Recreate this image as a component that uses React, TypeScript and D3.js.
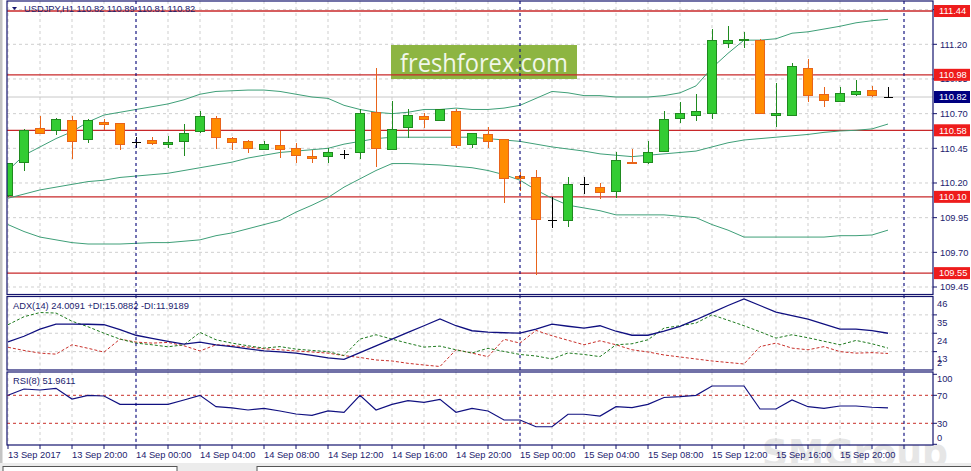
import * as d3 from 'd3';

// hourly candles, 13 Sep 16:00 .. 15 Sep 23:00
const opens = [110.11, 110.35, 110.59, 110.575, 110.65, 110.51, 110.637, 110.63, 110.49, 110.503, 110.479, 110.50, 110.57, 110.666, 110.524, 110.50, 110.443, 110.472, 110.45, 110.394, 110.39, 110.407, 110.421, 110.71, 110.443, 110.601, 110.683, 110.649, 110.719, 110.479, 110.551, 110.51, 110.25, 110.241, 109.933, 109.926, 110.19, 110.169, 110.137, 110.35, 110.35, 110.425, 110.666, 110.685, 110.702, 111.207, 111.226, 111.231, 110.685, 110.688, 111.027, 110.839, 110.789, 110.836, 110.87, 110.82];
const highs = [110.345, 110.59, 110.68, 110.666, 110.683, 110.661, 110.661, 110.635, 110.534, 110.534, 110.539, 110.625, 110.719, 110.683, 110.534, 110.51, 110.503, 110.577, 110.49, 110.438, 110.45, 110.438, 110.733, 111.027, 110.791, 110.731, 110.702, 110.735, 110.733, 110.56, 110.606, 110.515, 110.28, 110.294, 110.097, 110.245, 110.245, 110.198, 110.421, 110.445, 110.503, 110.719, 110.786, 110.839, 111.31, 111.334, 111.286, 111.235, 110.923, 111.063, 111.094, 110.89, 110.89, 110.942, 110.899, 110.89];
const lows = [110.10, 110.29, 110.55, 110.546, 110.37, 110.49, 110.582, 110.438, 110.45, 110.474, 110.45, 110.397, 110.558, 110.443, 110.438, 110.418, 110.44, 110.378, 110.346, 110.342, 110.346, 110.37, 110.37, 110.317, 110.44, 110.522, 110.598, 110.645, 110.45, 110.45, 110.454, 110.053, 110.144, 109.54, 109.878, 109.885, 110.118, 110.082, 110.09, 110.338, 110.337, 110.42, 110.635, 110.649, 110.659, 111.175, 111.175, 110.70, 110.601, 110.685, 110.786, 110.75, 110.785, 110.83, 110.82, 110.81];
const closes = [110.34, 110.58, 110.56, 110.66, 110.50, 110.65, 110.62, 110.48, 110.49, 110.488, 110.493, 110.558, 110.683, 110.531, 110.493, 110.45, 110.479, 110.443, 110.40, 110.378, 110.421, 110.407, 110.702, 110.45, 110.587, 110.685, 110.659, 110.733, 110.469, 110.558, 110.50, 110.234, 110.234, 109.938, 109.933, 110.19, 110.19, 110.133, 110.363, 110.34, 110.421, 110.661, 110.702, 110.712, 111.224, 111.224, 111.238, 110.702, 110.702, 111.038, 110.829, 110.796, 110.846, 110.861, 110.829, 110.82];

// Bollinger bands
const bbUpper = [110.29, 110.40, 110.46, 110.52, 110.57, 110.64, 110.69, 110.71, 110.73, 110.75, 110.77, 110.80, 110.84, 110.86, 110.865, 110.87, 110.87, 110.86, 110.84, 110.82, 110.81, 110.76, 110.73, 110.71, 110.70, 110.71, 110.73, 110.73, 110.74, 110.73, 110.73, 110.74, 110.76, 110.81, 110.86, 110.85, 110.83, 110.83, 110.82, 110.82, 110.82, 110.83, 110.85, 110.90, 111.03, 111.135, 111.23, 111.23, 111.24, 111.28, 111.29, 111.31, 111.33, 111.355, 111.37, 111.38];
const bbMiddle = [110.09, 110.12, 110.15, 110.17, 110.19, 110.21, 110.22, 110.24, 110.25, 110.26, 110.27, 110.29, 110.31, 110.33, 110.35, 110.38, 110.40, 110.42, 110.43, 110.44, 110.45, 110.48, 110.50, 110.52, 110.53, 110.53, 110.53, 110.53, 110.53, 110.53, 110.52, 110.51, 110.50, 110.48, 110.46, 110.445, 110.43, 110.41, 110.40, 110.39, 110.40, 110.41, 110.42, 110.43, 110.46, 110.49, 110.51, 110.52, 110.53, 110.54, 110.55, 110.565, 110.575, 110.58, 110.59, 110.625];
const bbLower = [109.90, 109.85, 109.81, 109.79, 109.77, 109.76, 109.76, 109.76, 109.765, 109.77, 109.77, 109.78, 109.79, 109.82, 109.84, 109.87, 109.90, 109.93, 109.99, 110.04, 110.095, 110.17, 110.23, 110.29, 110.34, 110.34, 110.335, 110.33, 110.32, 110.31, 110.29, 110.26, 110.22, 110.15, 110.09, 110.04, 110.02, 110.00, 109.97, 109.97, 109.97, 109.97, 109.96, 109.95, 109.90, 109.86, 109.81, 109.81, 109.81, 109.81, 109.81, 109.81, 109.82, 109.82, 109.825, 109.86];

// ADX(14)
const adx = [18.9, 22.2, 26.5, 29.5, 29.5, 29.4, 29.1, 26.1, 22.8, 20.9, 19.1, 17.5, 18.7, 17.1, 16.0, 14.7, 13.4, 12.8, 12.1, 10.7, 9.2, 8.4, 12.4, 16.5, 20.5, 24.5, 28.5, 32.6, 28.5, 25.5, 24.7, 24.3, 24.1, 26.5, 29.5, 28.2, 27.1, 28.5, 25.2, 22.8, 22.8, 25.2, 28.1, 32.1, 36.4, 40.6, 44.6, 40.6, 36.7, 34.5, 32.4, 29.4, 26.5, 26.5, 25.6, 24.0];
const plusDi = [29.1, 33.9, 36.4, 36.1, 31.2, 27.9, 24.0, 20.5, 18.1, 17.1, 15.9, 17.1, 24.5, 20.1, 18.1, 16.5, 15.1, 16.0, 14.5, 13.7, 13.0, 10.7, 20.5, 23.1, 20.5, 18.0, 15.7, 16.3, 14.1, 12.2, 15.0, 13.1, 11.3, 10.4, 8.6, 12.2, 11.3, 10.0, 17.1, 17.7, 20.1, 27.1, 28.5, 30.1, 35.0, 31.8, 28.5, 24.9, 21.1, 23.1, 21.3, 19.2, 17.1, 19.7, 17.7, 15.1];
const minusDi = [15.6, 13.7, 12.1, 11.5, 17.1, 15.0, 12.7, 20.5, 18.7, 18.1, 18.5, 16.5, 13.4, 17.1, 16.6, 15.7, 14.7, 14.1, 13.4, 12.8, 12.1, 10.6, 9.5, 8.0, 7.4, 6.0, 5.0, 4.1, 14.1, 12.1, 10.0, 20.4, 18.1, 25.7, 22.5, 19.8, 17.1, 19.5, 17.1, 14.1, 12.8, 11.0, 9.8, 8.6, 7.4, 6.5, 5.6, 16.0, 18.1, 15.1, 14.1, 16.0, 13.0, 12.1, 12.4, 11.9];

// RSI(8)
const rsi = [70.0, 79.0, 77.6, 80.0, 64.7, 70.0, 69.0, 57.1, 57.1, 57.1, 57.1, 63.3, 70.0, 53.7, 51.9, 49.0, 51.4, 47.6, 43.3, 41.4, 47.6, 45.7, 70.0, 49.0, 57.1, 62.3, 60.0, 64.3, 45.7, 51.4, 47.6, 34.7, 34.7, 25.1, 25.1, 42.9, 42.9, 40.4, 53.7, 52.3, 57.1, 66.9, 68.0, 70.0, 83.3, 83.3, 83.3, 50.4, 50.4, 63.3, 53.7, 51.4, 54.7, 54.7, 52.9, 51.96];

const timeLabels = ['13 Sep 2017', '13 Sep 20:00', '14 Sep 00:00', '14 Sep 04:00', '14 Sep 08:00', '14 Sep 12:00', '14 Sep 16:00', '14 Sep 20:00', '15 Sep 00:00', '15 Sep 04:00', '15 Sep 08:00', '15 Sep 12:00', '15 Sep 16:00', '15 Sep 20:00'];
const priceTicks = [111.45, 111.20, 110.95, 110.70, 110.45, 110.20, 109.95, 109.70, 109.45];
const levels = [111.44, 110.98, 110.58, 110.10, 109.55];
const bid = 110.82;
const dayStarts = [8, 32, 56];
const adxTicks = [46, 35, 24, 13, 2];
const rsiLevels = [70, 30];
const rsiTicks = [100, 70, 30, 0];

const W = 971, H = 471;
const L = 7, R = 933;
const main = { top: 1, bottom: 294.5 };
const pAdx = { top: 296.5, bottom: 370 };
const pRsi = { top: 372, bottom: 445 };

const NAVY = '#14146e';
const TXT = '#22226e';
const RED = '#c8282a';
const FONT = '"Liberation Sans", Arial, sans-serif';
const FS = 9.3;

export default function App() {
  const n = closes.length;
  const x = d3.scaleLinear().domain([0, 56]).range([8, 904]);
  const y = d3.scaleLinear().domain([109.45, 111.20]).range([287, 44.3]);
  const ya = d3.scaleLinear().domain([2, 46]).range([pAdx.bottom, pAdx.top]);
  const yr = d3.scaleLinear().domain([0, 100]).range([444.3, 374.3]);

  const lineP = d3.line<number>().x((_, i) => x(i)).y(d => y(d));
  const lineA = d3.line<number>().x((_, i) => x(i)).y(d => ya(d));
  const lineR = d3.line<number>().x((_, i) => x(i)).y(d => yr(d));

  const vGrid = d3.range(0, 57, 2).map(i => x(i)).filter(v => v < R);
  const idx = d3.range(n);

  const gridV = (top: number, bottom: number) =>
    vGrid.map((gx, i) => (
      <line key={i} x1={gx} x2={gx} y1={top} y2={bottom} stroke="#cfcfcf" strokeDasharray="3,3" />
    ));

  const lvlFmt = d3.format('.2f');

  return (
    <div style={{ position: 'absolute', left: 0, top: 0, width: W, height: H, background: '#fff' }}>
      <svg width={W} height={H} style={{ display: 'block' }} fontFamily={FONT} fontSize={FS}>
        <defs>
          <clipPath id="cMain"><rect x={L} y={main.top} width={R - L} height={main.bottom - main.top} /></clipPath>
          <clipPath id="cAdx"><rect x={L} y={pAdx.top} width={R - L} height={pAdx.bottom - pAdx.top} /></clipPath>
          <clipPath id="cRsi"><rect x={L} y={pRsi.top} width={R - L} height={pRsi.bottom - pRsi.top} /></clipPath>
        </defs>
        <rect x={0} y={0} width={W} height={H} fill="#fff" />
        <rect x={0} y={0} width={2.5} height={463} fill="#c4c4c4" />

        {/* SMGroup watermark */}
        <text x={762} y={466} fontSize={38} fontWeight="bold" fill="#e6e6e6" textLength={186}
          lengthAdjust="spacingAndGlyphs" fontFamily='"DejaVu Sans", sans-serif'>SMGroup</text>

        {/* main panel */}
        <g clipPath="url(#cMain)">
          {gridV(main.top, main.bottom)}
          {priceTicks.map(p => (
            <line key={p} x1={L} x2={R} y1={y(p)} y2={y(p)} stroke="#cfcfcf" strokeDasharray="3,3" />
          ))}
          <rect x={391} y={45} width={186} height={34} fill="#8db542" />
          <text x={400} y={72} fontSize={25} fill="#f2f7ea" fontFamily='"Open Sans", sans-serif'
            textLength={168} lengthAdjust="spacingAndGlyphs">freshforex.com</text>
          <line x1={L} x2={R} y1={y(bid)} y2={y(bid)} stroke="#c8c8c8" />
          {levels.map(p => (
            <line key={p} x1={L} x2={R} y1={y(p)} y2={y(p)} stroke={RED} strokeWidth={1.3} />
          ))}
          {[bbUpper, bbMiddle, bbLower].map((s, i) => (
            <path key={i} d={lineP(s) ?? ''} fill="none" stroke="#3f9f78" strokeWidth={1} />
          ))}
          {idx.map(i => {
            const o = opens[i], c = closes[i], cx = x(i);
            if (o === c) {
              return (
                <g key={i} stroke="#000" shapeRendering="crispEdges">
                  <line x1={cx} x2={cx} y1={y(highs[i])} y2={y(lows[i])} />
                  <line x1={cx - 4.5} x2={cx + 4.5} y1={y(c)} y2={y(c)} />
                </g>
              );
            }
            const up = c > o;
            const stroke = up ? '#1f8a1f' : '#e8641a';
            const fill = up ? '#33cc33' : '#ff8c00';
            const top = y(Math.max(o, c)), bot = y(Math.min(o, c));
            return (
              <g key={i} shapeRendering="crispEdges">
                <line x1={cx} x2={cx} y1={y(highs[i])} y2={y(lows[i])} stroke={stroke} />
                <rect x={cx - 4.5} y={top} width={9} height={Math.max(1, bot - top)} fill={fill} stroke={stroke} />
              </g>
            );
          })}
        </g>
        <path d="M12,7 L17,7 L14.5,10 Z" fill={NAVY} />
        <text x={24} y={9} dy="0.35em" fill={TXT}>USDJPY,H1  110.82 110.89 110.81 110.82</text>

        {/* ADX panel */}
        <g clipPath="url(#cAdx)">
          {gridV(pAdx.top, pAdx.bottom)}
          {[35, 24, 13].map(v => (
            <line key={v} x1={L} x2={R} y1={ya(v)} y2={ya(v)} stroke="#cfcfcf" strokeDasharray="3,3" />
          ))}
          <path d={lineA(minusDi) ?? ''} fill="none" stroke="#c8302a" strokeDasharray="3,2" />
          <path d={lineA(plusDi) ?? ''} fill="none" stroke="#1f7a1f" strokeDasharray="3,2" />
          <path d={lineA(adx) ?? ''} fill="none" stroke="#101080" strokeWidth={1.3} />
        </g>
        <text x={13} y={305.5} dy="0.35em" fill={TXT}>ADX(14) 24.0091 +DI:15.0882 -DI:11.9189</text>

        {/* RSI panel */}
        <g clipPath="url(#cRsi)">
          {gridV(pRsi.top, pRsi.bottom)}
          {rsiLevels.map(v => (
            <line key={v} x1={L} x2={R} y1={yr(v)} y2={yr(v)} stroke="#c8302a" strokeDasharray="3,3" />
          ))}
          <path d={lineR(rsi) ?? ''} fill="none" stroke="#101080" strokeWidth={1.2} />
        </g>
        <text x={13} y={381} dy="0.35em" fill={TXT}>RSI(8) 51.9611</text>

        {/* day separators */}
        {dayStarts.map(i => (
          <line key={i} x1={x(i)} x2={x(i)} y1={main.top} y2={pRsi.bottom} stroke="#000080" strokeDasharray="3,3" />
        ))}

        {/* frames */}
        {[main, pAdx, pRsi].map((p, i) => (
          <rect key={i} x={L} y={p.top} width={R - L} height={p.bottom - p.top} fill="none" stroke={NAVY} strokeWidth={1.2} />
        ))}

        {/* price axis */}
        {priceTicks.map(p => (
          <g key={p}>
            <line x1={R} x2={R + 4} y1={y(p)} y2={y(p)} stroke={NAVY} />
            {y(p) > main.top + 5 && (
              <text x={940} y={y(p)} dy="0.35em" fill={TXT}>{lvlFmt(p)}</text>
            )}
          </g>
        ))}
        {levels.map(p => (
          <g key={p}>
            <rect x={934} y={y(p) - 6} width={36} height={12} fill="#ee1c1c" />
            <text x={939} y={y(p)} dy="0.36em" fill="#fff">{lvlFmt(p)}</text>
          </g>
        ))}
        <rect x={934} y={y(bid) - 6} width={36} height={12} fill="#000080" />
        <text x={939} y={y(bid)} dy="0.36em" fill="#fff">{lvlFmt(bid)}</text>

        {/* ADX axis */}
        {adxTicks.map(v => (
          <g key={v}>
            {v !== 46 && v !== 2 && <line x1={R} x2={R + 4} y1={ya(v)} y2={ya(v)} stroke={NAVY} />}
            <text x={937} y={Math.min(ya(v) + 7.5, pAdx.bottom - 7)} dy="0.35em" fill={TXT}>{v}</text>
          </g>
        ))}

        {/* RSI axis */}
        {rsiTicks.map(v => (
          <g key={v}>
            <line x1={R} x2={R + 4} y1={yr(v)} y2={yr(v)} stroke={NAVY} />
            <text x={937} y={Math.max(pRsi.top + 7, Math.min(yr(v), pRsi.bottom - 7))} dy="0.35em" fill={TXT}>{v}</text>
          </g>
        ))}

        {/* time axis */}
        {vGrid.map((gx, i) => (
          <line key={i} x1={gx} x2={gx} y1={pRsi.bottom} y2={pRsi.bottom + 4} stroke={NAVY} />
        ))}
        {timeLabels.map((t, i) => (
          <text key={t} x={x(i * 4)} y={455} dy="0.35em" fill={TXT}>{t}</text>
        ))}

        {/* bottom tab strip */}
        <rect x={0} y={463} width={W} height={8} fill="#ececec" />
        <rect x={3} y={466.5} width={174} height={8} fill="#fff" stroke="#555" />
        <rect x={257} y={466.5} width={716} height={8} fill="#fff" stroke="#555" />
      </svg>
    </div>
  );
}
